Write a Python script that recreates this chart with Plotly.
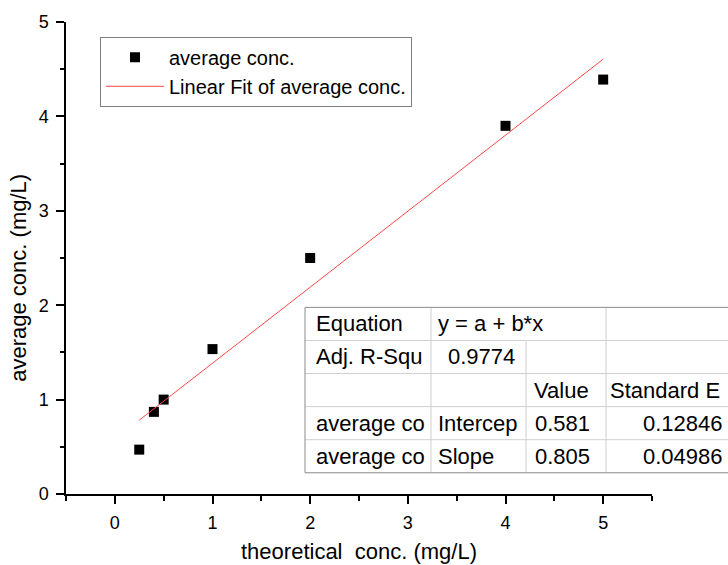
import plotly.graph_objects as go

# ---------------- data ----------------
theoretical = [0.25, 0.4, 0.5, 1, 2, 4, 5]
average = [0.47, 0.87, 1.0, 1.535, 2.5, 3.9, 4.39]

fit_x = [0.25, 5]
fit_y = [0.782, 4.606]

x_ticks = [0, 1, 2, 3, 4, 5]
y_ticks = [0, 1, 2, 3, 4, 5]

table_rows = [
    ["Equation", "y = a + b*x", "", ""],
    ["Adj. R-Squ", "0.9774", "", ""],
    ["", "", "Value", "Standard E"],
    ["average co", "Intercep", "0.581", "0.12846"],
    ["average co", "Slope", "0.805", "0.04986"],
]

# ---------------- geometry helpers (pixels -> paper) ----------------
W, H = 728, 565
L, R, T, B = 66, 76, 16, 71
PW, PH = W - L - R, H - T - B


def px(xp):
    return (xp - L) / PW


def py(yp):
    return (H - B - yp) / PH


FONT = "Arial, Liberation Sans, sans-serif"

fig = go.Figure()
fig.add_trace(go.Scatter(
    x=theoretical, y=average, mode="markers", name="average conc.",
    marker=dict(symbol="square", size=10, color="black"),
))
fig.add_trace(go.Scatter(
    x=fit_x, y=fit_y, mode="lines", name="Linear Fit of average conc.",
    line=dict(color="rgb(255,70,70)", width=1),
))

axis_common = dict(
    showline=True, linecolor="black", linewidth=1.5,
    ticks="outside", ticklen=8, tickwidth=1.5, tickcolor="black",
    showgrid=False, zeroline=False, mirror=False,
    tickfont=dict(family=FONT, size=18, color="black"),
    ticklabelstandoff=4,
)

fig.update_xaxes(range=[-0.5, 5.5], tickvals=x_ticks,
                 minor=dict(ticks="outside", dtick=0.5, tick0=0, ticklen=5,
                            tickwidth=1.5, tickcolor="black"),
                 **axis_common)
fig.update_yaxes(range=[0, 5], tickvals=y_ticks,
                 minor=dict(ticks="outside", dtick=0.5, tick0=0, ticklen=4,
                            tickwidth=1.5, tickcolor="black"),
                 **axis_common)

# ---------------- table (shapes + text) ----------------
row_edges = [305, 338.5, 372, 405.5, 439, 472.5]
col_edges = [305, 431, 526, 606, 740]
shapes = []
inner = "#cfcfcf"
outer = "#8a8a8a"
shapes.append(dict(type="rect", xref="paper", yref="paper", layer="below",
                   x0=px(col_edges[0]), x1=px(col_edges[-1]),
                   y0=py(row_edges[0]), y1=py(row_edges[-1]),
                   fillcolor="white", line=dict(width=0)))
for ye in row_edges[1:-1]:
    shapes.append(dict(type="line", xref="paper", yref="paper",
                       x0=px(col_edges[0]), x1=px(col_edges[-1]), y0=py(ye), y1=py(ye),
                       line=dict(color=inner, width=1)))
vert_spans = [(col_edges[1], row_edges[0]), (col_edges[2], row_edges[1]), (col_edges[3], row_edges[0])]
for xe, ystart in vert_spans:
    shapes.append(dict(type="line", xref="paper", yref="paper",
                       x0=px(xe), x1=px(xe), y0=py(ystart), y1=py(row_edges[-1]),
                       line=dict(color=inner, width=1)))
for (x0, y0, x1, y1) in [
    (col_edges[0], row_edges[0], col_edges[0], row_edges[-1]),
    (col_edges[0], row_edges[0], col_edges[-1], row_edges[0]),
    (col_edges[0], row_edges[-1], col_edges[-1], row_edges[-1]),
]:
    shapes.append(dict(type="line", xref="paper", yref="paper",
                       x0=px(x0), x1=px(x1), y0=py(y0), y1=py(y1),
                       line=dict(color=outer, width=1)))

annotations = []
col_text_pos = [("left", 314), ("left", 436), ("right", 591), ("left", 608)]
col_num_pos = [("right", 420), ("right", 517), ("right", 592), ("right", 725)]


def is_number(s):
    try:
        float(s)
        return True
    except ValueError:
        return False


for r, row in enumerate(table_rows):
    yc = (row_edges[r] + row_edges[r + 1]) / 2
    for c, txt in enumerate(row):
        if not txt:
            continue
        anchor, xpix = (col_num_pos if is_number(txt) else col_text_pos)[c]
        annotations.append(dict(
            text=txt, xref="paper", yref="paper", x=px(xpix), y=py(yc),
            xanchor=anchor, yanchor="middle", showarrow=False,
            font=dict(family=FONT, size=22, color="black"),
        ))

annotations.append(dict(text="theoretical  conc. (mg/L)", xref="paper", yref="paper",
                        x=px(359), y=py(552), xanchor="center", yanchor="middle",
                        showarrow=False, font=dict(family=FONT, size=22, color="black")))
annotations.append(dict(text="average conc. (mg/L)", xref="paper", yref="paper",
                        x=px(19), y=py(275), xanchor="center", yanchor="middle",
                        textangle=-90, showarrow=False,
                        font=dict(family=FONT, size=22, color="black")))

fig.update_layout(
    width=W, height=H,
    margin=dict(l=L, r=R, t=T, b=B, pad=0),
    paper_bgcolor="white", plot_bgcolor="white",
    showlegend=True,
    legend=dict(
        x=px(100), y=py(31), xanchor="left", yanchor="top",
        bordercolor="#808080", borderwidth=1, bgcolor="white",
        font=dict(family=FONT, size=20, color="black"),
        itemwidth=58, tracegroupgap=0,
    ),
    shapes=shapes,
    annotations=annotations,
)

fig.write_html("out.html", config={"displayModeBar": False},
               post_script="document.body.style.margin='0';document.body.style.padding='0';")
